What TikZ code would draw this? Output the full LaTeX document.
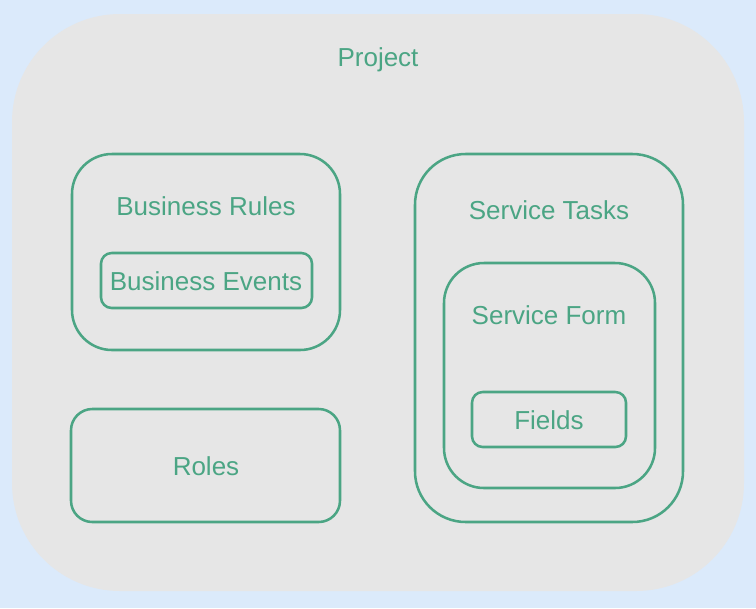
\documentclass[tikz,border=0pt]{standalone}
\usepackage{fontspec}
\setmainfont{Liberation Sans}
\definecolor{bgblue}{HTML}{DBEAFB}
\definecolor{panel}{HTML}{E6E6E6}
\definecolor{grn}{HTML}{4BA584}
\tikzset{
  box/.style={draw=grn, line width=1.9pt},
  lbl/.style={text=grn, font=\fontsize{19.5pt}{22pt}\selectfont, inner sep=0pt}
}
\begin{document}
\begin{tikzpicture}[x=0.75pt,y=-0.75pt]
\fill[bgblue] (0,0) rectangle (756,608);
\useasboundingbox (0,0) rectangle (756,608);
\fill[panel, rounded corners=81pt] (12,14) rectangle (744,591);
\node[lbl] (project) at (378,59.5) {Project};
% Business Rules
\draw[box, rounded corners=30pt] (72,154) rectangle (340,350);
\node[lbl] (brules) at (206,206) {Business Rules};
\draw[box, rounded corners=8pt] (101,253) rectangle (312,308);
\node[lbl] (bevents) at (206,281) {Business Events};
% Roles
\draw[box, rounded corners=16pt] (71,409) rectangle (340,522);
\node[lbl] (roles) at (206,466) {Roles};
% Service Tasks
\draw[box, rounded corners=38pt] (415,154) rectangle (683,522);
\node[lbl] (stasks) at (549,210) {Service Tasks};
\draw[box, rounded corners=30pt] (444,263) rectangle (655,488);
\node[lbl] (sform) at (549,315) {Service Form};
\draw[box, rounded corners=8pt] (472,392) rectangle (626,447);
\node[lbl] (fields) at (549,420) {Fields};
\end{tikzpicture}
\end{document}
